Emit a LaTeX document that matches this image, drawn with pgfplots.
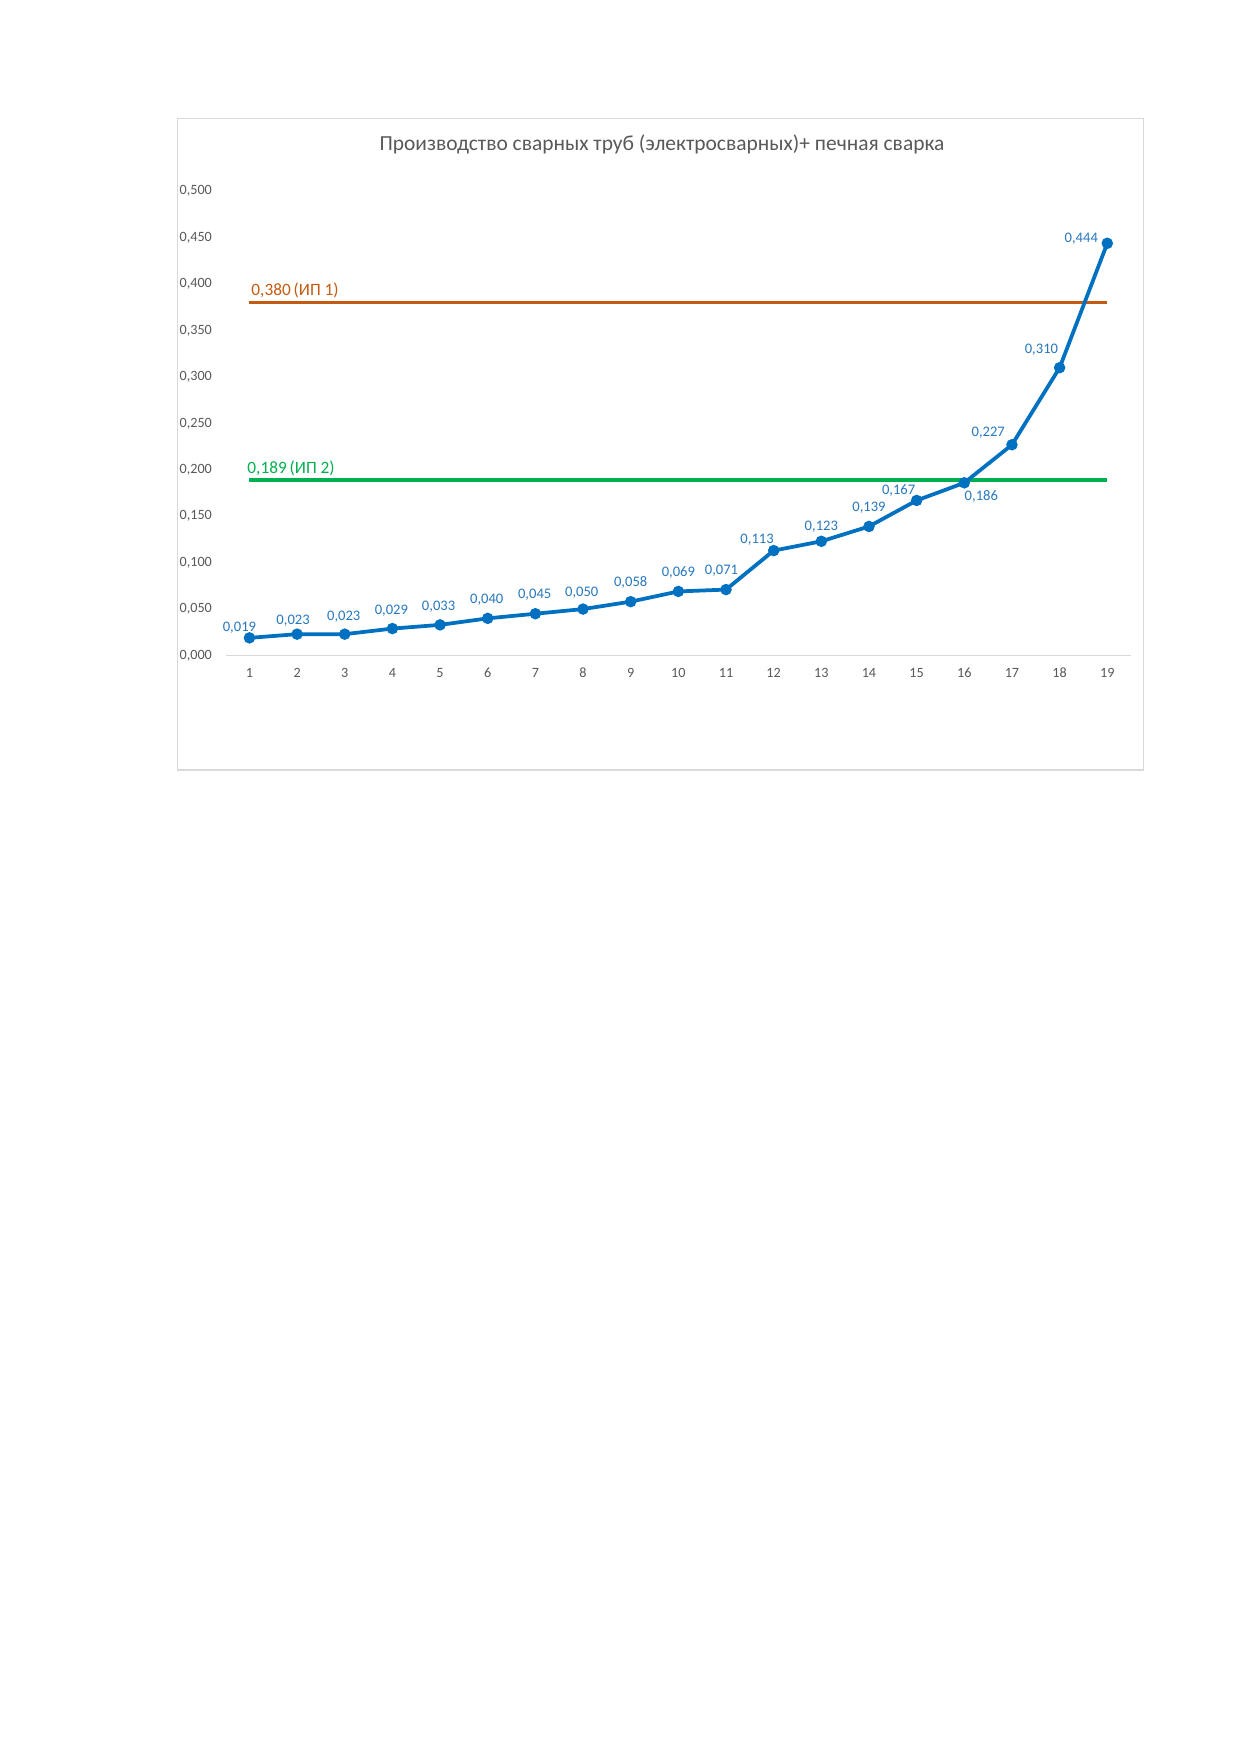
\documentclass[border=0pt]{standalone}
\usepackage{pgfplots}
\usepackage{pgfplotstable}
\pgfplotsset{compat=1.18}
\usepackage{fontspec}
\setmainfont{Carlito}
\definecolor{lblue}{RGB}{0,112,192}
\definecolor{dlblue}{RGB}{40,120,190}
\definecolor{lorange}{RGB}{197,90,17}
\definecolor{lgreen}{RGB}{0,176,80}
\definecolor{tgray}{RGB}{89,89,89}
\definecolor{fgray}{RGB}{217,217,217}
\def\u{0.48006bp}
\pgfplotstableread{
x y dx dy
1 0.019 -10 10.4
2 0.023 -4 13
3 0.023 -1 17.8
4 0.029 -1 18
5 0.033 -1.5 18.6
6 0.040 -1 18.8
7 0.045 -0.7 18.7
8 0.050 -1.3 16
9 0.058 0 19
10 0.069 0 18.7
11 0.071 -4.5 19
12 0.113 -16.6 11.2
13 0.123 0 14.3
14 0.139 0 18.5
15 0.167 -18 10
16 0.186 17 -13.7
17 0.227 -23.7 12.2
18 0.310 -18.2 17.7
19 0.444 -26 4.5
}\main
\pgfplotstableread{
x ip1 ip2
1 0.380 0.189
2 0.380 0.189
3 0.380 0.189
4 0.380 0.189
5 0.380 0.189
6 0.380 0.189
7 0.380 0.189
8 0.380 0.189
9 0.380 0.189
10 0.380 0.189
11 0.380 0.189
12 0.380 0.189
13 0.380 0.189
14 0.380 0.189
15 0.380 0.189
16 0.380 0.189
17 0.380 0.189
18 0.380 0.189
19 0.380 0.189
}\ips
\begin{document}
\begin{tikzpicture}
\path[use as bounding box, fill=white] (0,0) rectangle (1240*\u,-1754*\u);
\draw[draw=fgray, line width=1.2*\u] (177.5*\u,-118.5*\u) rectangle (1143.5*\u,-770*\u);
\node[text=tgray, font=\fontsize{10.3bp}{12bp}\selectfont, inner sep=0pt] at (662*\u,-144.3*\u) {Производство сварных труб (электросварных)+ печная сварка};
\begin{axis}[
  at={(225.6*\u,-655.5*\u)}, anchor=south west,
  scale only axis, width=905.5*\u, height=464.2*\u,
  xmin=0.5, xmax=19.5, ymin=0, ymax=0.5,
  clip=false,
  /pgf/number format/assume math mode=true,
  axis x line*=bottom, axis y line*=left,
  x axis line style={draw=fgray, line width=1.2*\u, -},
  y axis line style={draw=none},
  major tick length=0pt,
  xtick={1,...,19},
  ytick={0,0.05,0.1,0.15,0.2,0.25,0.3,0.35,0.4,0.45,0.5},
  ticklabel style={text=tgray, font=\fontsize{6.8bp}{8bp}\selectfont},
  xticklabel style={anchor=base, inner sep=0pt, yshift=-22.3*\u},
  yticklabel style={anchor=east, inner sep=0pt, xshift=-13.3*\u,
    /pgf/number format/.cd, fixed, fixed zerofill, precision=3, use comma},
  xticklabel style={/pgf/number format/.cd, fixed, precision=0},
]
\addplot[lorange, line width=1.7bp, no marks] table[x=x,y=ip1] {\ips};
\addplot[lgreen, line width=1.7bp, no marks] table[x=x,y=ip2] {\ips};
\addplot[lblue, line width=1.8bp, mark=*, mark size=1.8bp, mark options={fill=lblue, draw=lblue},
  point meta=explicit,
  visualization depends on={\thisrow{dx} \as \dx},
  visualization depends on={\thisrow{dy} \as \dy},
  nodes near coords={\pgfmathprintnumber[fixed,fixed zerofill,precision=3,use comma,assume math mode=true]{\pgfplotspointmeta}},
  every node near coord/.append style={anchor=center, inner sep=0pt, text=dlblue,
    font=\fontsize{7bp}{8bp}\selectfont, xshift=\dx*\u, yshift=\dy*\u},
] table[x=x,y=y,meta=y] {\main};
\end{axis}
\node[anchor=west, inner sep=0pt, text=lorange, font=\fontsize{8.3bp}{9bp}\selectfont] at (251*\u,-290.5*\u) {0,380\,(ИП 1)};
\node[anchor=west, inner sep=0pt, text=lgreen, font=\fontsize{8.3bp}{9bp}\selectfont] at (247*\u,-468*\u) {0,189\,(ИП 2)};
\end{tikzpicture}
\end{document}
